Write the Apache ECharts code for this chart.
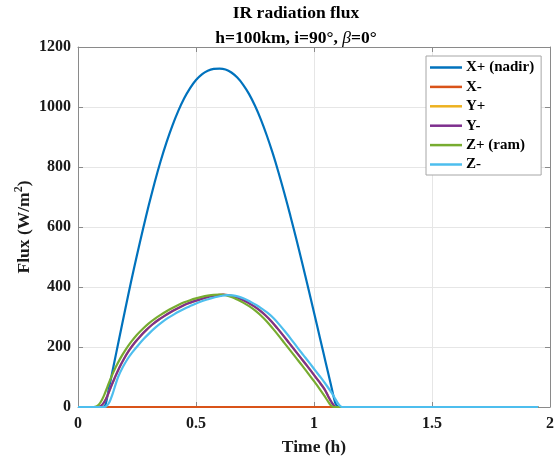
<!DOCTYPE html>
<html>
<head>
<meta charset="utf-8">
<script src="https://cdn.jsdelivr.net/npm/echarts@6/dist/echarts.min.js"></script>
<style>
html,body{margin:0;padding:0;background:#fff;}
#chart{width:555px;height:458px;}
</style>
</head>
<body>
<div id="chart"></div>
<script>
// ---- data (time in hours, flux in W/m^2) ----
const seriesNames = ['X+ (nadir)', 'X-', 'Y+', 'Y-', 'Z+ (ram)', 'Z-'];
const seriesColors = ['#0072BD', '#D95319', '#EDB120', '#7E2F8E', '#77AC30', '#4DBEEE'];

const xpT = [0,0.10,0.115,0.13,0.15,0.175,0.20,0.225,0.25,0.275,0.30,0.325,0.35,0.375,0.40,0.425,0.45,0.475,0.50,0.525,0.55,0.575,0.60,0.625,0.65,0.675,0.70,0.725,0.75,0.775,0.80,0.825,0.85,0.875,0.90,0.925,0.95,0.975,1.00,1.025,1.05,1.07,1.08,1.09,1.10,1.11,1.95];
const xpV = [0,0,5,58,134,230,325,418,507,592,673,749,819,882,938,987,1029,1063,1090,1109,1121,1127,1128,1125,1115,1098,1074,1043,1004,958,905,846,781,711,637,560,480,398,315,231,147,80,45,14,2,0,0];

const xmT = [0,1.95];
const xmV = [0,0];

const ymT = [0,0.08,0.095,0.11,0.125,0.14,0.155,0.175,0.195,0.215,0.24,0.265,0.29,0.315,0.34,0.365,0.39,0.415,0.44,0.465,0.49,0.515,0.54,0.565,0.59,0.615,0.64,0.67,0.695,0.72,0.745,0.77,0.795,0.82,0.845,0.87,0.895,0.92,0.945,0.97,0.995,1.02,1.045,1.06,1.075,1.085,1.095,1.95];
const ymV = [0,0,3,15,38,68,96,131,161,187,214,237,257,275,290,303,315,326,336,345,352,358,364,369,373,375,372,367,358,348,336,322,305,285,262,238,213,188,163,138,112,86,59,36,15,4,0,0];

const ypT = ymT.slice();
const ypV = ymV.slice();

const zpT = [0,0.065,0.08,0.095,0.11,0.125,0.14,0.16,0.18,0.20,0.225,0.25,0.275,0.30,0.325,0.35,0.375,0.40,0.425,0.45,0.475,0.50,0.525,0.55,0.575,0.60,0.625,0.65,0.675,0.70,0.725,0.75,0.775,0.80,0.825,0.85,0.875,0.90,0.925,0.95,0.975,1.00,1.025,1.045,1.06,1.07,1.08,1.09,1.95];
const zpV = [0,0,3,15,38,68,98,133,163,189,217,241,261,279,294,307,319,330,340,349,356,362,367,371,374,375,373,367,358,348,336,322,305,285,262,238,213,188,163,138,112,86,59,36,18,7,1,0,0];

const zmT = [0,0.11,0.12,0.133,0.146,0.158,0.17,0.19,0.21,0.23,0.255,0.28,0.305,0.33,0.355,0.38,0.405,0.43,0.455,0.48,0.505,0.53,0.555,0.58,0.605,0.63,0.655,0.68,0.705,0.73,0.755,0.78,0.805,0.83,0.855,0.88,0.905,0.93,0.955,0.98,1.005,1.03,1.055,1.075,1.09,1.10,1.11,1.12,1.95];
const zmV = [0,0,3,16,42,72,100,133,160,182,206,228,248,266,282,296,308,319,329,338,347,354,360,366,370,373,372,368,361,351,340,327,313,295,273,249,224,198,173,148,122,97,70,47,27,14,4,0,0];

const xTickLabels = ['0','0.5','1','1.5','2'];
const yTickLabels = ['0','200','400','600','800','1000','1200'];

const titleLine1 = 'IR radiation flux';
const xAxisName = 'Time (h)';

// ---- build ----
const seriesT = [xpT, xmT, ypT, ymT, zpT, zmT];
const seriesV = [xpV, xmV, ypV, ymV, zpV, zmV];

const FONT = "'Liberation Serif','Times New Roman',serif";
const TXT = '#1a1a1a';
const AXC = '#8a8a8a';

const series = seriesNames.map((name, i) => ({
  name: name,
  type: 'line',
  xAxisIndex: 0,
  yAxisIndex: 0,
  data: seriesT[i].map((t, k) => [t, seriesV[i][k]]),
  symbol: 'none',
  showSymbol: false,
  smooth: 0.3,
  lineStyle: { color: seriesColors[i], width: 2.2 },
  itemStyle: { color: seriesColors[i] },
  emphasis: { disabled: true },
  z: 2 + i
}));

const chart = echarts.init(document.getElementById('chart'), null, { renderer: 'canvas' });

const axisCommon = {
  axisLine: { show: true, onZero: false, lineStyle: { color: AXC, width: 1 } },
  axisTick: { show: true, inside: true, length: 5, lineStyle: { color: AXC } },
};

chart.setOption({
  animation: false,
  backgroundColor: '#fff',
  grid: { left: 78, right: 5, top: 47, bottom: 51, containLabel: false, outerBoundsMode: 'none' },
  graphic: [
    {
      type: 'text', x: 296, y: 13,
      style: { text: titleLine1, font: "bold 17.5px " + FONT, fill: '#000', align: 'center', verticalAlign: 'middle' }
    },
    {
      type: 'text', x: 296, y: 38,
      style: {
        text: '{b|h=100km, i=90°, }{i|β}{b|=0°}',
        align: 'center', verticalAlign: 'middle',
        rich: {
          b: { fontFamily: FONT, fontWeight: 'bold', fontSize: 17.5, fill: '#000' },
          i: { fontFamily: FONT, fontStyle: 'italic', fontWeight: 'normal', fontSize: 17.5, fill: '#000' }
        }
      }
    }
  ],
  legend: {
    data: seriesNames,
    orient: 'vertical',
    left: 426, top: 56,
    padding: [4, 7, 3, 4],
    itemGap: 4.4,
    icon: 'rect',
    itemWidth: 32,
    itemHeight: 2.5,
    backgroundColor: '#fff',
    borderColor: '#a6a6a6',
    borderWidth: 1,
    selectedMode: false,
    textStyle: { fontFamily: FONT, fontWeight: 'bold', fontSize: 15, color: '#000', lineHeight: 15, padding: [0, 0, 0, -1] }
  },
  xAxis: [
    Object.assign({
      type: 'value', position: 'bottom', min: 0, max: 2, interval: 0.5,
      name: xAxisName, nameLocation: 'middle', nameGap: 31, nameMoveOverlap: false,
      nameTextStyle: { fontFamily: FONT, fontWeight: 'bold', fontSize: 17.5, color: TXT },
      axisLabel: { margin: 9, fontFamily: FONT, fontWeight: 'bold', fontSize: 16, color: TXT,
        formatter: v => xTickLabels[Math.round(v / 0.5)] },
      splitLine: { show: true, lineStyle: { color: '#e6e6e6', width: 1 } }
    }, axisCommon),
    Object.assign({
      type: 'value', position: 'top', min: 0, max: 2, interval: 0.5,
      axisLabel: { show: false }, splitLine: { show: false }
    }, axisCommon)
  ],
  yAxis: [
    Object.assign({
      type: 'value', position: 'left', min: 0, max: 1200, interval: 200,
      name: 'Flux (W/m{sup|2})', nameLocation: 'middle', nameGap: 43, nameMoveOverlap: false,
      nameTextStyle: { fontFamily: FONT, fontWeight: 'bold', fontSize: 17.5, color: TXT,
        rich: { sup: { fontFamily: FONT, fontWeight: 'bold', fontSize: 12, color: TXT, verticalAlign: 'top', padding: [0, 0, 10, 0] } } },
      axisLabel: { margin: 7, fontFamily: FONT, fontWeight: 'bold', fontSize: 16, color: TXT,
        formatter: v => yTickLabels[Math.round(v / 200)] },
      splitLine: { show: true, lineStyle: { color: '#e6e6e6', width: 1 } }
    }, axisCommon),
    Object.assign({
      type: 'value', position: 'right', min: 0, max: 1200, interval: 200,
      axisLabel: { show: false }, splitLine: { show: false }
    }, axisCommon)
  ],
  series: series
});
</script>
</body>
</html>
